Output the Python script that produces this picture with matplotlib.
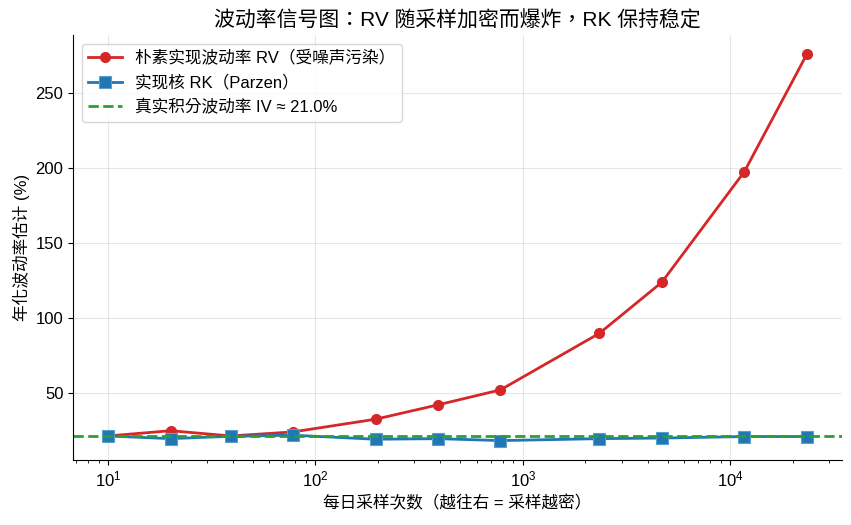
import numpy as np
import matplotlib
matplotlib.use("Agg")
import matplotlib.pyplot as plt

plt.rcParams['font.family'] = ['Liberation Sans', 'Noto Sans CJK TC', 'DejaVu Sans']
plt.rcParams['mathtext.fontset'] = 'custom'
plt.rcParams['mathtext.rm'] = 'Liberation Sans'
plt.rcParams['mathtext.it'] = 'Liberation Sans:italic'
plt.rcParams['axes.unicode_minus'] = False

# samples per day (23400 s trading day / interval)
n_samples = [10, 20, 39, 78, 195, 390, 780, 2340, 4680, 11700, 23400]
rv_naive = [21.0, 24.5, 21.0, 23.7, 32.2, 41.8, 51.8, 89.6, 123.7, 197.6, 276.0]
rk_parzen = [21.0, 19.2, 20.8, 21.5, 18.8, 19.2, 17.9, 19.2, 19.6, 20.6, 20.6]
true_iv = 21.0

fig, ax = plt.subplots(figsize=(8.51, 5.25), dpi=100)
fig.subplots_adjust(left=0.086, right=0.989, top=0.933, bottom=0.124)

ax.plot(n_samples, rv_naive, '-o', color='#d62728', lw=2, ms=7,
        label='朴素实现波动率 RV（受噪声污染）')
ax.plot(n_samples, rk_parzen, '-s', color='#1f77b4', lw=2, ms=8,
        markeredgecolor='#5a9fd0', markeredgewidth=0.8,
        label='实现核 RK（Parzen）')
ax.axhline(true_iv, color='#2ca02c', ls='--', lw=2,
           label=f'真实积分波动率 IV ≈ {true_iv:.1f}%')

ax.set_xscale('log')
ax.set_title('波动率信号图：RV 随采样加密而爆炸，RK 保持稳定', fontsize=15)
ax.set_xlabel('每日采样次数（越往右 = 采样越密）', fontsize=12)
ax.set_ylabel('年化波动率估计 (%)', fontsize=12)
ax.tick_params(labelsize=12)
ax.grid(True, alpha=0.3)
ax.spines['top'].set_visible(False)
ax.spines['right'].set_visible(False)
ax.legend(loc='upper left', fontsize=12)

plt.savefig('out.png', dpi=100)
